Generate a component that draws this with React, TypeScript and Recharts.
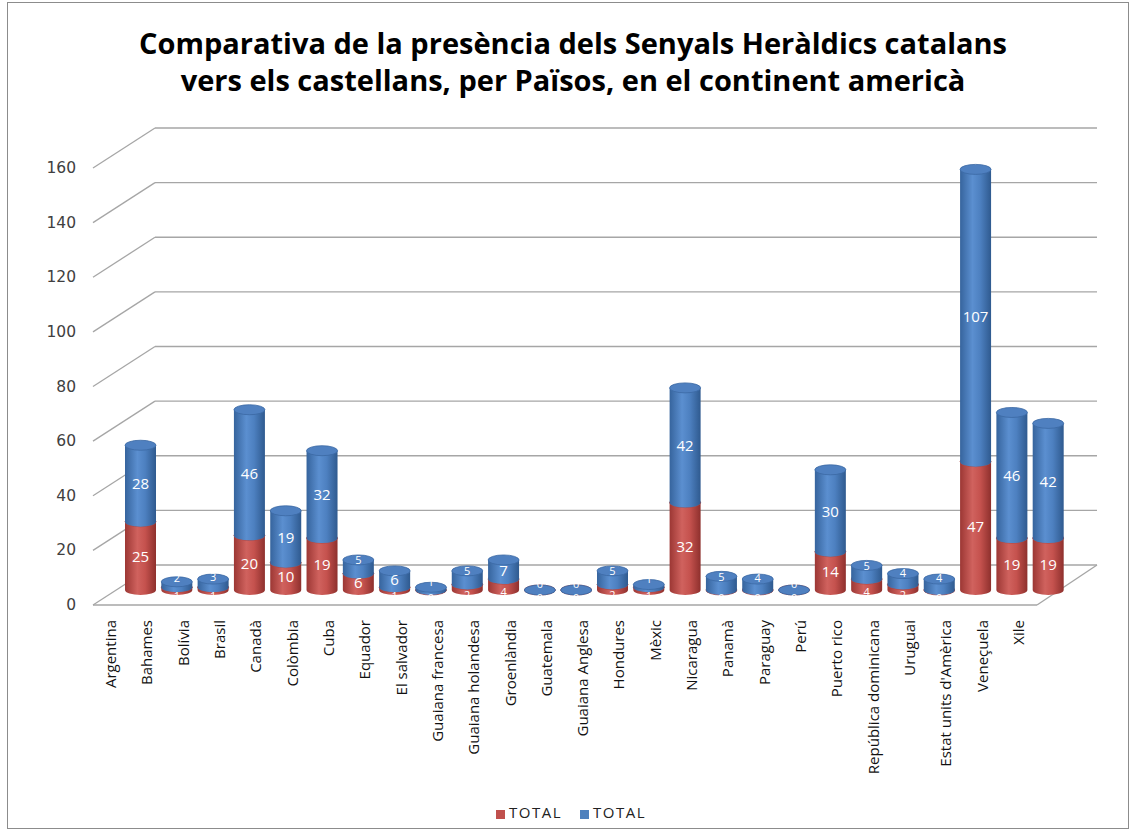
import React from 'react';
import { BarChart, Bar, XAxis, YAxis, CartesianGrid, Legend, LabelList } from 'recharts';

const categories = [
  'Argentina', 'Bahames', 'Bolívia', 'Brasil', 'Canadà', 'Colòmbia', 'Cuba', 'Equador',
  'El salvador', 'Guaiana francesa', 'Guaiana holandesa', 'Groenlàndia', 'Guatemala',
  'Guaiana Anglesa', 'Hondures', 'Mèxic', 'Nicaragua', 'Panamà', 'Paraguay', 'Perú',
  'Puerto rico', 'República dominicana', 'Uruguai', "Estat units d'Amèrica", 'Veneçuela', 'Xile',
];
const catalanValues = [25, 1, 1, 20, 10, 19, 6, 1, 0, 2, 4, 0, 0, 2, 1, 32, 0, 0, 0, 14, 4, 2, 0, 47, 19, 19];
const castellanValues = [28, 2, 3, 46, 19, 32, 5, 6, 1, 5, 7, 0, 0, 5, 1, 42, 5, 4, 0, 30, 5, 4, 4, 107, 46, 42];
const yTicks = [0, 20, 40, 60, 80, 100, 120, 140, 160];

const data = categories.map((name, i) => ({ name, cat: catalanValues[i], cas: castellanValues[i] }));

const RY = 5;
const FONT = '"Open Sans", Lato, sans-serif';

function makeCylinder(gradId: string, topFill: string, rim: string) {
  return (props: any) => {
    const { x, y, width, height } = props;
    if (x == null || y == null) return null;
    const w = width;
    const h = Math.max(0, height);
    const rx = w / 2;
    const cx = x + rx;
    const body = `M${x},${y} L${x},${y + h} A${rx},${RY} 0 0 0 ${x + w},${y + h} L${x + w},${y} Z`;
    return (
      <g>
        <path d={body} fill={`url(#${gradId})`} />
        <ellipse cx={cx} cy={y} rx={rx} ry={RY} fill={topFill} stroke={rim} strokeWidth={0.8} />
      </g>
    );
  };
}

const RedCylinder = makeCylinder('gradRed', '#c8605c', '#a94441');
const BlueCylinder = makeCylinder('gradBlue', '#4f80c0', '#3b68a3');

function makeLabel(kind: 'red' | 'blue') {
  return (props: any) => {
    const { x, y, width, height, value } = props;
    if (x == null || y == null) return null;
    const h = Math.max(0, height);
    const small = h < 16;
    let cy = y + h / 2;
    let size = 15;
    if (small) {
      size = 11;
      cy = kind === 'red' ? y + h / 2 + 7 : y + h / 2 - 7;
    }
    return (
      <text
        x={x + width / 2}
        y={cy}
        textAnchor="middle"
        dominantBaseline="central"
        fill="#fff"
        fontSize={size}
        fontFamily={FONT}
      >
        {value}
      </text>
    );
  };
}
const RedLabel = makeLabel('red');
const BlueLabel = makeLabel('blue');

const YTick = (props: any) => {
  const { y, payload } = props;
  return (
    <text x={76} y={y + 15} textAnchor="end" dominantBaseline="central" fontFamily='"DejaVu Sans", Verdana, sans-serif' fontSize={15.5} fill="#404040">
      {payload.value}
    </text>
  );
};

const XTick = (props: any) => {
  const { x, y, payload } = props;
  const tx = x - 30;
  const ty = y + 22;
  return (
    <text x={tx} y={ty} transform={`rotate(-90 ${tx} ${ty})`} textAnchor="end" dominantBaseline="central" fontFamily={FONT} fontSize={15} fill="#111">
      {payload.value}
    </text>
  );
};

const GridLine = (props: any) => {
  const { x1, x2, y1 } = props;
  const bottom = props.y + props.height;
  const stroke = '#a6a6a6';
  const backL = x1 + 33;
  const backR = x2 + 31;
  const frontL = x1 - 29;
  const isFloor = Math.abs(y1 - bottom) < 1;
  return (
    <g>
      <line x1={frontL} y1={y1 + 15} x2={backL} y2={y1 - 25} stroke={stroke} strokeWidth={1.3} />
      <line x1={backL} y1={y1 - 25} x2={backR} y2={y1 - 25} stroke={stroke} strokeWidth={1.3} />
      {isFloor && (
        <>
          <line x1={frontL} y1={y1 + 15} x2={backR - 60} y2={y1 + 15} stroke={stroke} strokeWidth={1.3} />
          <line x1={backR - 60} y1={y1 + 15} x2={backR} y2={y1 - 25} stroke={stroke} strokeWidth={1.3} />
        </>
      )}
    </g>
  );
};

const legendFormatter = (value: string) => (
  <span style={{ color: '#222', fontFamily: FONT, fontSize: 15, letterSpacing: 1.5, marginRight: 8 }}>{value}</span>
);

export default function App() {
  return (
    <div style={{ position: 'absolute', left: 0, top: 0, width: 1134, height: 834, background: '#fff' }}>
      <div style={{ position: 'absolute', left: 7, top: 2, width: 1120, height: 825, border: '1px solid #8c8c8c' }} />
      <div
        style={{
          position: 'absolute', left: 0, top: 24, width: 1146, textAlign: 'center',
          fontFamily: FONT, fontWeight: 700, fontSize: 29, lineHeight: '37px', color: '#000',
        }}
      >
        Comparativa de la presència dels Senyals Heràldics catalans
        <br />
        vers els castellans, per Països, en el continent americà
      </div>
      <div style={{ position: 'absolute', left: 0, top: 0 }}>
        <BarChart width={1134} height={834} data={data} margin={{ top: 153, right: 68, left: 0, bottom: 8 }} barSize={31}>
          <defs>
            <linearGradient id="gradRed" x1="0" y1="0" x2="1" y2="0">
              <stop offset="0%" stopColor="#9c3734" />
              <stop offset="40%" stopColor="#d0625e" />
              <stop offset="65%" stopColor="#c5524e" />
              <stop offset="100%" stopColor="#8e302d" />
            </linearGradient>
            <linearGradient id="gradBlue" x1="0" y1="0" x2="1" y2="0">
              <stop offset="0%" stopColor="#36649d" />
              <stop offset="40%" stopColor="#5b8fd0" />
              <stop offset="65%" stopColor="#4d80c0" />
              <stop offset="100%" stopColor="#2f5a8f" />
            </linearGradient>
          </defs>
          <CartesianGrid vertical={false} horizontal={GridLine} />
          <XAxis dataKey="name" interval={0} height={212} axisLine={false} tickLine={false} tick={XTick} />
          <YAxis domain={[0, 160]} ticks={yTicks} width={122} axisLine={false} tickLine={false} tick={YTick} />
          <Legend
            verticalAlign="bottom"
            height={24}
            iconType="square"
            iconSize={9}
            formatter={legendFormatter}
            wrapperStyle={{ left: 0, width: 1160 }}
          />
          <Bar dataKey="cat" name="TOTAL" stackId="s" fill="#c0504d" shape={RedCylinder} isAnimationActive={false}>
            <LabelList dataKey="cat" content={RedLabel} />
          </Bar>
          <Bar dataKey="cas" name="TOTAL" stackId="s" fill="#4f81bd" shape={BlueCylinder} isAnimationActive={false}>
            <LabelList dataKey="cas" content={BlueLabel} />
          </Bar>
        </BarChart>
      </div>
    </div>
  );
}
